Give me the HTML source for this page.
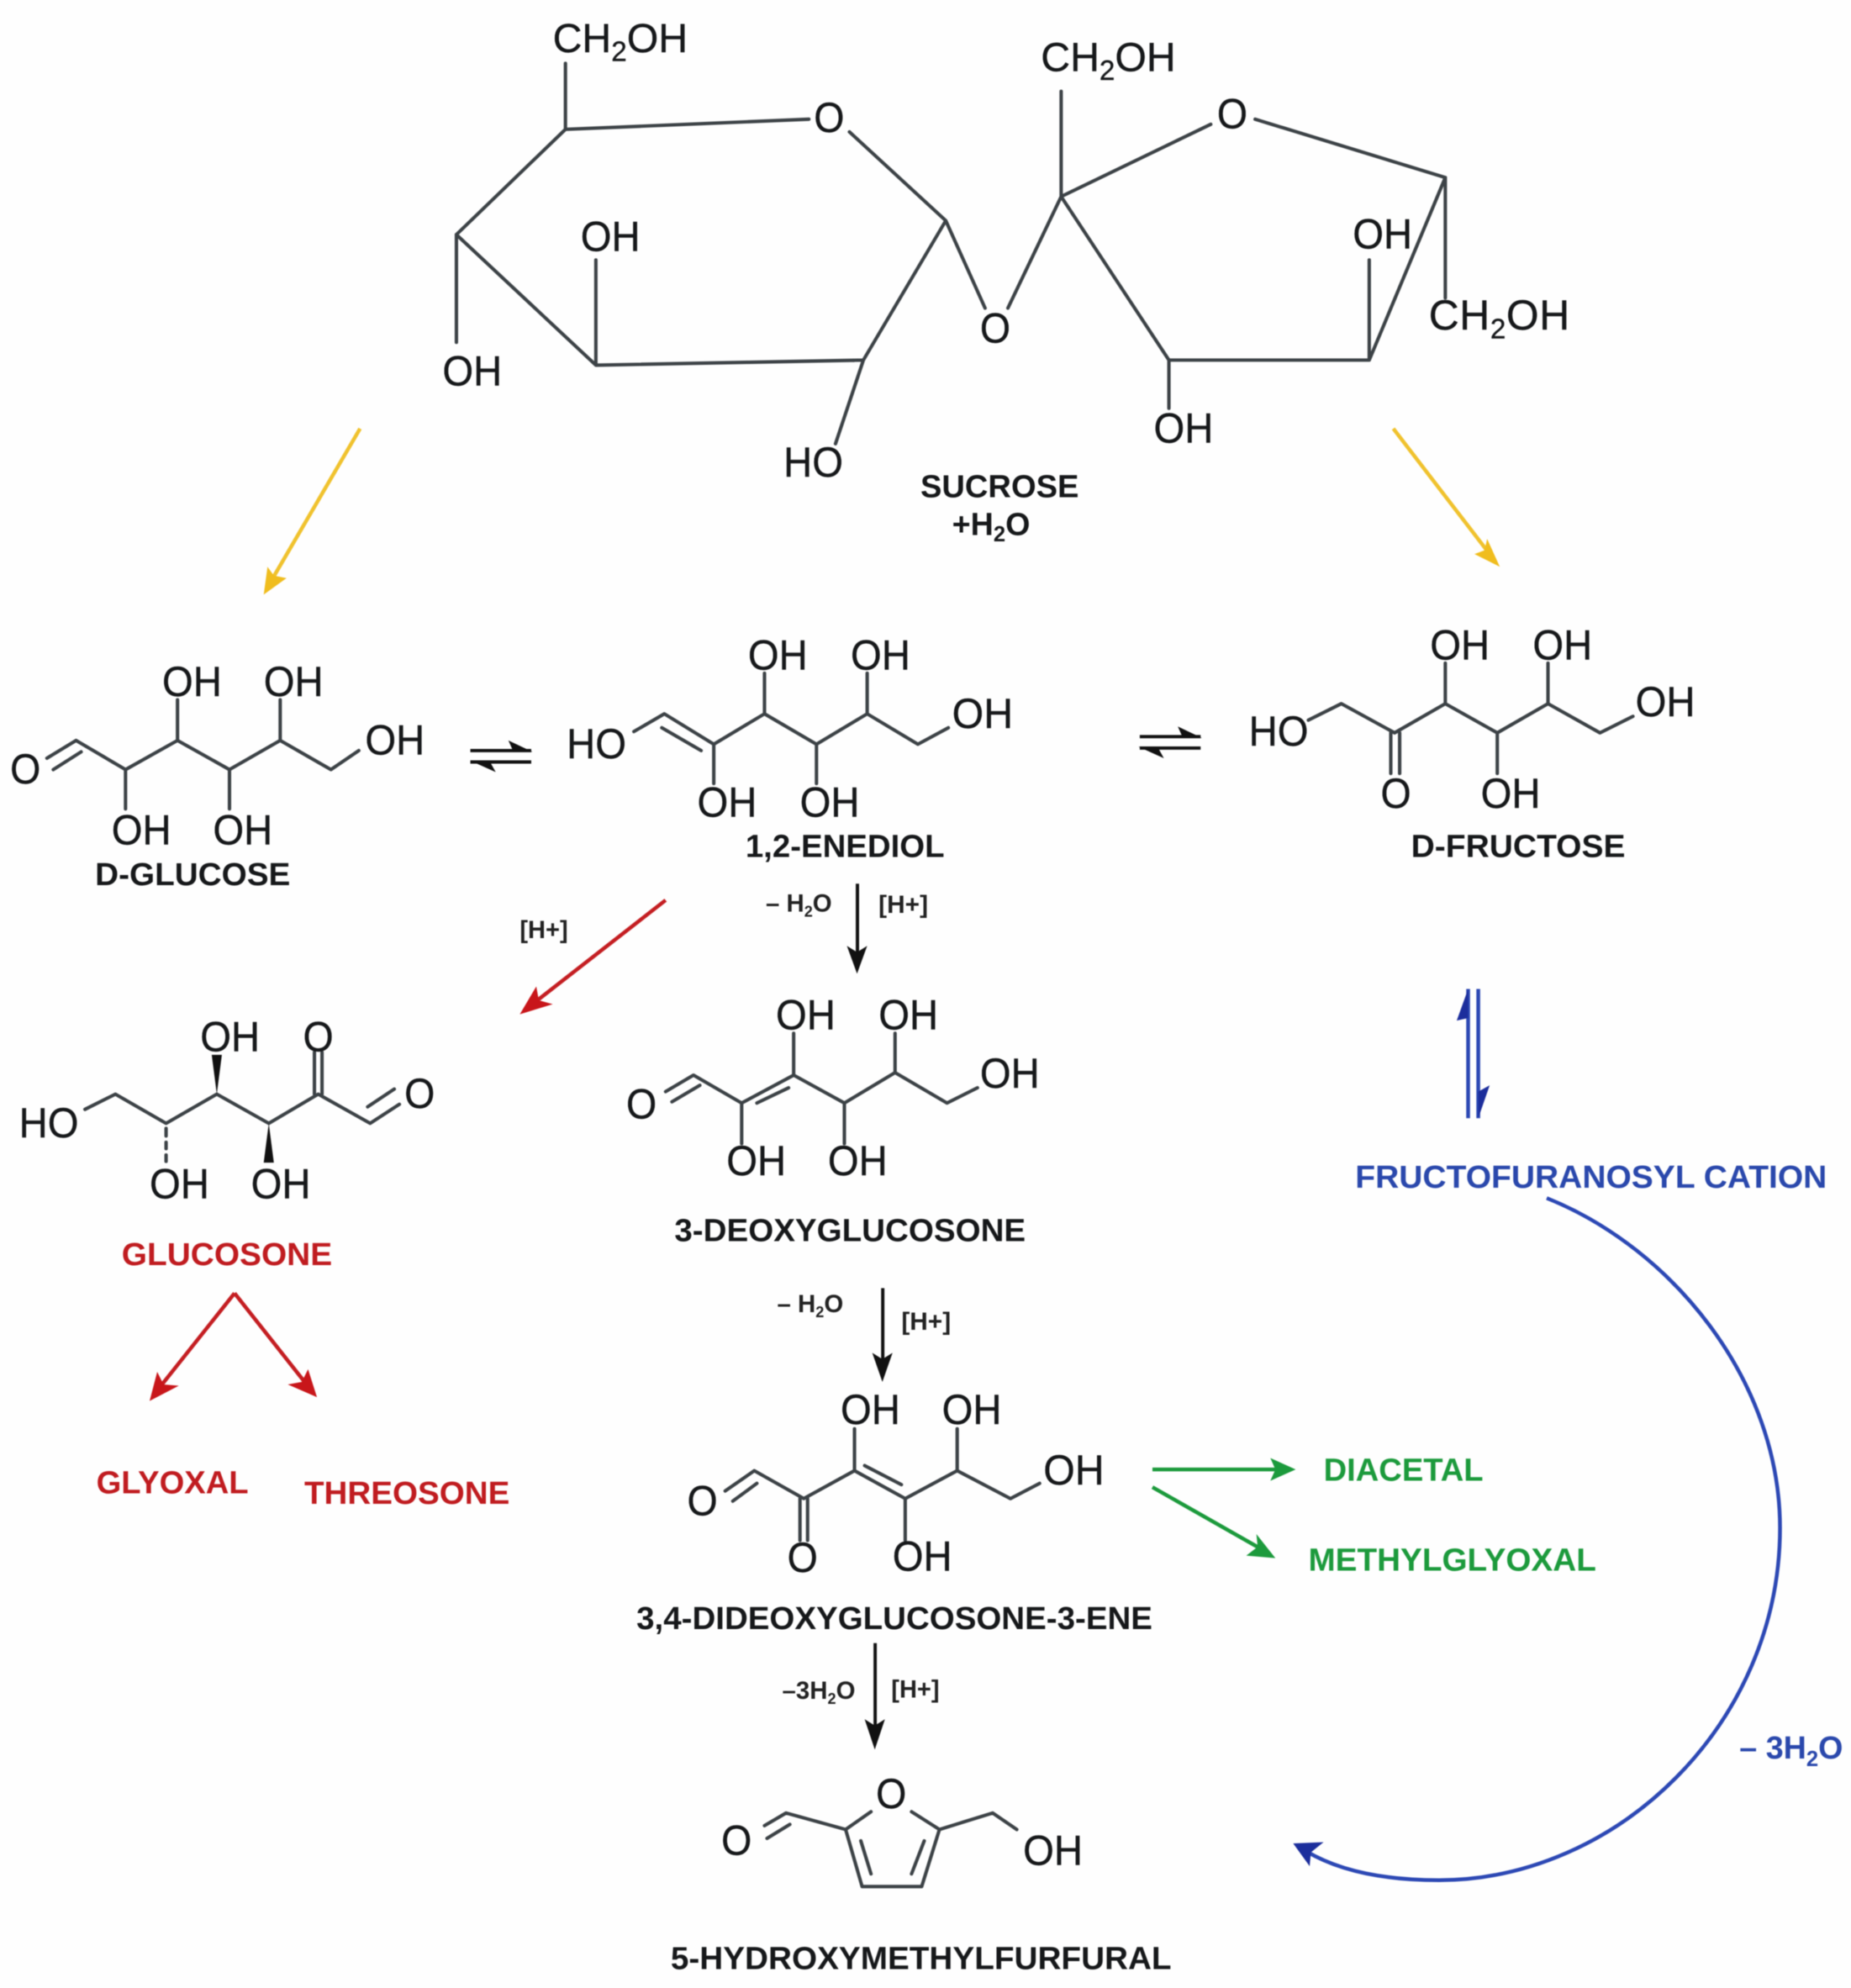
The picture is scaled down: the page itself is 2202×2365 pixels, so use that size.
<!DOCTYPE html>
<html><head><meta charset="utf-8"><style>
html,body{margin:0;padding:0;background:#fefefe}
svg{display:block;filter:blur(0.6px)}
text{font-family:"Liberation Sans",sans-serif;fill:#16181a}
.a{font-size:33px;stroke:#16181a;stroke-width:.25}
.c{font-size:32px;stroke:#16181a;stroke-width:.25}
.b{font-size:25px;font-weight:bold}
.s{font-size:19.5px;font-weight:bold;fill:#222}
.r{fill:#c01c20}.g{fill:#1c9a3c}.u{fill:#2a48ac}
.l line,.l path{stroke:#3c4246;stroke-width:2.7;fill:none;stroke-linecap:round;stroke-linejoin:round}
</style></head><body>
<svg xmlns="http://www.w3.org/2000/svg" width="2202" height="2365" viewBox="0 0 1460 1568">
<g class="l">
<!-- sucrose -->
<path d="M446 50V102L638 94M670 104L746 174L681 284L470 288L360 185L446 102M360 185V270M470 288V205M681 284L659 350M746 174L777 243M795 243L837 155V72M837 155L955 98M990 94L1140 140L1080 284H922L837 155M922 284V322M1080 284V205M1140 140V235"/>
<!-- glucose -->
<path d="M37 598L60 584L99 607L140 584L181 607L221 584L261 607L283 592M42 607L64 593M140 584V552M221 584V552M99 607V638M181 607V638"/>
<!-- enediol -->
<path d="M500 577L524 563L563 587L603 563L644 587L684 563L724 587L748 574M522 574L553 592M603 563V531M684 563V531M563 587V618M644 587V618"/>
<!-- fructose -->
<path d="M1032 568L1058 555L1100 578L1140 555L1181 578L1221 555L1262 578L1288 565M1140 555V523M1221 555V523M1181 578V610M1097 578V610M1104 578V610"/>
<!-- glucosone -->
<path d="M67 875L91 863L131 886L171 863L212 886L251 863L292 886L315 871M290 873L311 859M248 863V830M254 863V830"/>
<path d="M131 890V896M131 901V906M131 911V916" />
<!-- 3-deoxy -->
<path d="M525 861L547 848L585 870L626 848L666 870L706 846L747 870L771 858M530 869L552 856M597 870L622 858M626 848V815M706 846V815M585 870V902M666 870V902"/>
<!-- 3,4 -->
<path d="M572 1176L595 1160L634 1182L674 1160L714 1182L755 1160L797 1182L820 1170M578 1184L597 1170M682 1156L711 1171M631 1182V1215M637 1182V1215M674 1160V1127M755 1160V1127M714 1182V1215"/>
<!-- HMF -->
<path d="M603 1440L620 1430L667 1443L680 1488H727L741 1443L783 1430L802 1443M605 1450L623 1439M667 1443L687 1429M741 1443L719 1429M679 1452L687 1478M729 1452L719 1478"/>
</g>
<polygon points="171,863 167,832 175,832" fill="#111"/>
<polygon points="212,886 208,917 216,917" fill="#111"/>
<!-- equilibrium arrows -->
<g fill="none" stroke="#111" stroke-width="2.6">
<path d="M371 592H419M371 601H419M899 581H947M899 590H947"/>
</g>
<g fill="#111">
<polygon points="420,593 401,584 405,593"/><polygon points="371,600 391,609 386,600"/>
<polygon points="948,582 929,573 933,582"/><polygon points="898,589 918,598 913,589"/>
<!-- black arrows -->
<rect x="675" y="697" width="2.6" height="58"/><polygon points="676,768 668,746 676,751 684,746"/>
<rect x="695" y="1016" width="2.6" height="62"/><polygon points="696,1090 688,1067 696,1072 704,1067"/>
<rect x="689" y="1296" width="2.6" height="72"/><polygon points="690,1380 682,1356 690,1361 698,1356"/>
</g>
<!-- yellow -->
<g stroke="#f0c22e" stroke-width="3" fill="none"><path d="M284 338L214 458M1099 338L1175 437"/></g>
<g fill="#f0bd1e"><polygon points="208,469 211,447 216,454 226,456"/><polygon points="1183,447 1163,437 1171,434 1173,425"/></g>
<!-- red -->
<g stroke="#c41e22" stroke-width="3" fill="none"><path d="M525 710L420 792M185 1020L123 1098M185 1020L245 1096"/></g>
<g fill="#c8161a"><polygon points="410,800 423,778 425,789 436,792"/><polygon points="118,1105 124,1082 129,1092 141,1093"/><polygon points="250,1102 227,1092 238,1090 243,1080"/></g>
<!-- green -->
<g stroke="#1c9a3c" stroke-width="3" fill="none"><path d="M909 1159H1012M909 1173L997 1223"/></g>
<g fill="#1c9a3c"><polygon points="1022,1159 1002,1150 1006,1159 1002,1168"/><polygon points="1006,1229 983,1227 992,1220 991,1210"/></g>
<!-- blue -->
<g stroke="#2c48b4" stroke-width="3" fill="none"><path d="M1158 780V882M1166 780V882"/>
<path d="M1220 945C1320 985 1404 1090 1404 1205C1404 1360 1275 1483 1135 1483C1090 1483 1055 1475 1030 1460"/></g>
<g fill="#1c2e9c"><polygon points="1158,780 1158,803 1149,805"/><polygon points="1166,882 1166,861 1175,856"/><polygon points="1020,1454 1044,1453 1034,1461 1033,1472"/></g>

<!-- sucrose labels -->
<text class="c" x="436" y="41">CH<tspan font-size="22" dy="7">2</tspan><tspan dy="-7">OH</tspan></text>
<text class="c" x="821" y="56">CH<tspan font-size="22" dy="7">2</tspan><tspan dy="-7">OH</tspan></text>
<text class="a" x="1127" y="260" textLength="111" lengthAdjust="spacing">CH<tspan font-size="22" dy="7">2</tspan><tspan dy="-7">OH</tspan></text>
<text class="a" x="642" y="104" textLength="24" lengthAdjust="spacingAndGlyphs">O</text>
<text class="a" x="960" y="101" textLength="24" lengthAdjust="spacingAndGlyphs">O</text>
<text class="a" x="773" y="270" textLength="24" lengthAdjust="spacingAndGlyphs">O</text>
<text class="a" x="458" y="198" textLength="47" lengthAdjust="spacingAndGlyphs">OH</text>
<text class="a" x="349" y="304" textLength="47" lengthAdjust="spacingAndGlyphs">OH</text>
<text class="a" x="618" y="376" textLength="47" lengthAdjust="spacingAndGlyphs">HO</text>
<text class="a" x="910" y="349" textLength="47" lengthAdjust="spacingAndGlyphs">OH</text>
<text class="a" x="1067" y="196" textLength="47" lengthAdjust="spacingAndGlyphs">OH</text>
<text class="b" x="726" y="392" textLength="125" lengthAdjust="spacingAndGlyphs">SUCROSE</text>
<text class="b" x="751" y="422">+H<tspan font-size="17" dy="5">2</tspan><tspan dy="-5">O</tspan></text>
<!-- glucose labels -->
<text class="a" x="8" y="618" textLength="24" lengthAdjust="spacingAndGlyphs">O</text>
<text class="a" x="128" y="549" textLength="47" lengthAdjust="spacingAndGlyphs">OH</text>
<text class="a" x="208" y="549" textLength="47" lengthAdjust="spacingAndGlyphs">OH</text>
<text class="a" x="288" y="595" textLength="47" lengthAdjust="spacingAndGlyphs">OH</text>
<text class="a" x="88" y="666" textLength="47" lengthAdjust="spacingAndGlyphs">OH</text>
<text class="a" x="168" y="666" textLength="47" lengthAdjust="spacingAndGlyphs">OH</text>
<text class="b" x="75" y="698" textLength="154" lengthAdjust="spacingAndGlyphs">D-GLUCOSE</text>
<!-- enediol labels -->
<text class="a" x="590" y="528" textLength="47" lengthAdjust="spacingAndGlyphs">OH</text>
<text class="a" x="671" y="528" textLength="47" lengthAdjust="spacingAndGlyphs">OH</text>
<text class="a" x="751" y="574" textLength="48" lengthAdjust="spacingAndGlyphs">OH</text>
<text class="a" x="550" y="644" textLength="47" lengthAdjust="spacingAndGlyphs">OH</text>
<text class="a" x="631" y="644" textLength="47" lengthAdjust="spacingAndGlyphs">OH</text>
<text class="a" x="447" y="598" textLength="47" lengthAdjust="spacingAndGlyphs">HO</text>
<text class="b" x="588" y="676" textLength="157" lengthAdjust="spacingAndGlyphs">1,2-ENEDIOL</text>
<!-- fructose labels -->
<text class="a" x="985" y="588" textLength="47" lengthAdjust="spacingAndGlyphs">HO</text>
<text class="a" x="1128" y="520" textLength="47" lengthAdjust="spacingAndGlyphs">OH</text>
<text class="a" x="1209" y="520" textLength="47" lengthAdjust="spacingAndGlyphs">OH</text>
<text class="a" x="1290" y="565" textLength="47" lengthAdjust="spacingAndGlyphs">OH</text>
<text class="a" x="1168" y="637" textLength="47" lengthAdjust="spacingAndGlyphs">OH</text>
<text class="a" x="1089" y="637" textLength="24" lengthAdjust="spacingAndGlyphs">O</text>
<text class="b" x="1113" y="676" textLength="169" lengthAdjust="spacingAndGlyphs">D-FRUCTOSE</text>
<!-- conditions -->
<text class="s" x="410" y="740" textLength="38" lengthAdjust="spacingAndGlyphs">[H+]</text>
<text class="s" x="693" y="720" textLength="39" lengthAdjust="spacingAndGlyphs">[H+]</text>
<text class="s" x="711" y="1049" textLength="39" lengthAdjust="spacingAndGlyphs">[H+]</text>
<text class="s" x="703" y="1339" textLength="38" lengthAdjust="spacingAndGlyphs">[H+]</text>
<text class="s" x="604" y="719">– H<tspan font-size="12" dy="4">2</tspan><tspan dy="-4">O</tspan></text>
<text class="s" x="613" y="1035">– H<tspan font-size="12" dy="4">2</tspan><tspan dy="-4">O</tspan></text>
<text class="s" x="617" y="1340">–3H<tspan font-size="12" dy="4">2</tspan><tspan dy="-4">O</tspan></text>
<!-- glucosone labels -->
<text class="a" x="15" y="897" textLength="47" lengthAdjust="spacingAndGlyphs">HO</text>
<text class="a" x="158" y="829" textLength="47" lengthAdjust="spacingAndGlyphs">OH</text>
<text class="a" x="239" y="829" textLength="24" lengthAdjust="spacingAndGlyphs">O</text>
<text class="a" x="319" y="874" textLength="24" lengthAdjust="spacingAndGlyphs">O</text>
<text class="a" x="118" y="945" textLength="47" lengthAdjust="spacingAndGlyphs">OH</text>
<text class="a" x="198" y="945" textLength="47" lengthAdjust="spacingAndGlyphs">OH</text>
<text class="b r" x="96" y="998" textLength="166" lengthAdjust="spacingAndGlyphs">GLUCOSONE</text>
<text class="b r" x="76" y="1178" textLength="120" lengthAdjust="spacingAndGlyphs">GLYOXAL</text>
<text class="b r" x="240" y="1186" textLength="162" lengthAdjust="spacingAndGlyphs">THREOSONE</text>
<!-- 3-deoxy labels -->
<text class="a" x="494" y="882" textLength="24" lengthAdjust="spacingAndGlyphs">O</text>
<text class="a" x="612" y="812" textLength="47" lengthAdjust="spacingAndGlyphs">OH</text>
<text class="a" x="693" y="812" textLength="47" lengthAdjust="spacingAndGlyphs">OH</text>
<text class="a" x="773" y="858" textLength="47" lengthAdjust="spacingAndGlyphs">OH</text>
<text class="a" x="573" y="927" textLength="47" lengthAdjust="spacingAndGlyphs">OH</text>
<text class="a" x="653" y="927" textLength="47" lengthAdjust="spacingAndGlyphs">OH</text>
<text class="b" x="532" y="979" textLength="277" lengthAdjust="spacingAndGlyphs">3-DEOXYGLUCOSONE</text>
<!-- 3,4 labels -->
<text class="a" x="542" y="1195" textLength="24" lengthAdjust="spacingAndGlyphs">O</text>
<text class="a" x="621" y="1240" textLength="24" lengthAdjust="spacingAndGlyphs">O</text>
<text class="a" x="663" y="1123" textLength="47" lengthAdjust="spacingAndGlyphs">OH</text>
<text class="a" x="743" y="1123" textLength="47" lengthAdjust="spacingAndGlyphs">OH</text>
<text class="a" x="823" y="1171" textLength="48" lengthAdjust="spacingAndGlyphs">OH</text>
<text class="a" x="704" y="1239" textLength="47" lengthAdjust="spacingAndGlyphs">OH</text>
<text class="b" x="502" y="1285" textLength="407" lengthAdjust="spacingAndGlyphs">3,4-DIDEOXYGLUCOSONE-3-ENE</text>
<text class="b g" x="1044" y="1168" textLength="126" lengthAdjust="spacingAndGlyphs">DIACETAL</text>
<text class="b g" x="1032" y="1239" textLength="227" lengthAdjust="spacingAndGlyphs">METHYLGLYOXAL</text>
<!-- HMF labels -->
<text class="a" x="691" y="1426" textLength="24" lengthAdjust="spacingAndGlyphs">O</text>
<text class="a" x="569" y="1463" textLength="24" lengthAdjust="spacingAndGlyphs">O</text>
<text class="a" x="807" y="1471" textLength="47" lengthAdjust="spacingAndGlyphs">OH</text>
<text class="b" x="529" y="1553" textLength="395" lengthAdjust="spacingAndGlyphs">5-HYDROXYMETHYLFURFURAL</text>
<!-- blue labels -->
<text class="b u" x="1069" y="937" textLength="372" lengthAdjust="spacingAndGlyphs">FRUCTOFURANOSYL CATION</text>
<text class="b u" x="1372" y="1387" font-size="25.5">– 3H<tspan font-size="17" dy="6">2</tspan><tspan dy="-6">O</tspan></text>
</svg>
</body></html>
